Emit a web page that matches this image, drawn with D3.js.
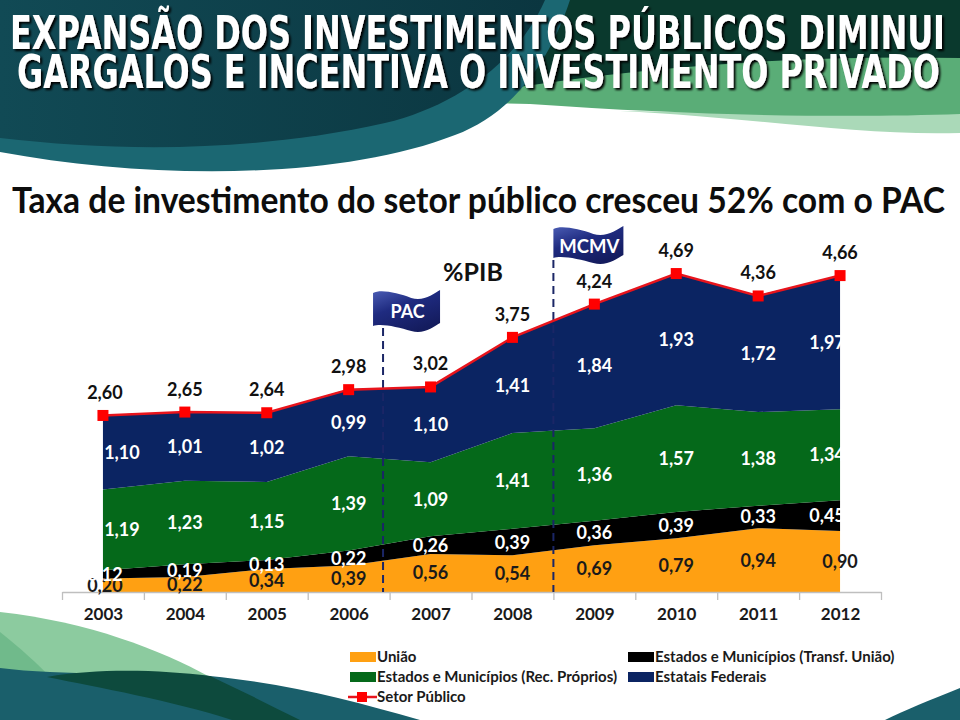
<!DOCTYPE html>
<html><head><meta charset="utf-8">
<script src="https://cdn.jsdelivr.net/npm/d3@7"></script>
<style>body{margin:0;background:#fff}svg{display:block}</style>
</head><body>
<svg id="c" width="960" height="720"></svg>
<script>
// ---------- DATA ----------
const years = [2003, 2004, 2005, 2006, 2007, 2008, 2009, 2010, 2011, 2012];
const uniao = [0.20, 0.22, 0.34, 0.39, 0.56, 0.54, 0.69, 0.79, 0.94, 0.90];
const transfUniao = [0.12, 0.19, 0.13, 0.22, 0.26, 0.39, 0.36, 0.39, 0.33, 0.45];
const recProprios = [1.19, 1.23, 1.15, 1.39, 1.09, 1.41, 1.36, 1.57, 1.38, 1.34];
const estatais = [1.10, 1.01, 1.02, 0.99, 1.10, 1.41, 1.84, 1.93, 1.72, 1.97];
const setorPublico = [2.60, 2.65, 2.64, 2.98, 3.02, 3.75, 4.24, 4.69, 4.36, 4.66];
const seriesKeys = ["uniao", "transf", "rec", "estatais"];
const seriesNames = ["União", "Estados e Municípios (Transf. União)", "Estados e Municípios (Rec. Próprios)", "Estatais Federais"];
const lineName = "Setor Público";
const milestones = [{label: "PAC", year: 2006.42}, {label: "MCMV", year: 2008.5}];
const title1 = "EXPANSÃO DOS INVESTIMENTOS PÚBLICOS DIMINUI";
const title2 = "GARGALOS E INCENTIVA O INVESTIMENTO PRIVADO";
const subtitle = "Taxa de investimento do setor público cresceu 52% com o PAC";
const unitLabel = "%PIB";

// ---------- STYLE ----------
const colors = {uniao: "#ffa012", transf: "#000000", rec: "#05691a", estatais: "#0b2462"};
const labelColors = {uniao: "#1a1a1a", transf: "#ffffff", rec: "#ffffff", estatais: "#ffffff"};
const lineColor = "#e8141c", markerColor = "#ff0000";
const F = "Lato, 'Open Sans', sans-serif";
const fmt = d3.formatLocale({decimal: ",", thousands: ".", grouping: [3], currency: ["R$", ""]}).format(".2f");

const svg = d3.select("#c");
const defs = svg.append("defs");
const shadow = defs.append("filter").attr("id", "shadow").attr("x", "-5%").attr("y", "-20%").attr("width", "110%").attr("height", "150%");
shadow.append("feDropShadow").attr("dx", 2).attr("dy", 2).attr("stdDeviation", 0.8).attr("flood-color", "#000").attr("flood-opacity", 1);

// ---------- BACKGROUND ----------
const gTeal = defs.append("linearGradient").attr("id", "gTeal").attr("x1", 0).attr("x2", 1);
gTeal.append("stop").attr("offset", 0).attr("stop-color", "#114a55");
gTeal.append("stop").attr("offset", 1).attr("stop-color", "#0b3640");
const bg = svg.append("g");
bg.append("path").attr("d", "M0,0 H960 V60 C780,56 600,72 440,102 L0,102 Z").attr("fill", "#0a392d");
bg.append("path").attr("d", "M620,111 C760,118 860,136 960,133 V110 C860,116 740,112 620,111 Z").attr("fill", "#aad9b8");
bg.append("path").attr("d", "M430,102 C600,70 780,54 960,58 V114 C850,118 700,116 530,104 Z").attr("fill", "#5aad77");
bg.append("path").attr("d", "M0,0 H570 C550,60 515,112 455,135 C340,180 150,180 0,152 Z").attr("fill", "#1b6772");
bg.append("path").attr("d", "M0,0 H545 C520,58 460,105 385,123 C255,152 120,152 0,138 Z").attr("fill", "url(#gTeal)");
// bottom waves
bg.append("path").attr("d", "M0,612 C90,622 160,650 210,677 L210,720 L0,720 Z").attr("fill", "#8ccb9f");
bg.append("path").attr("d", "M0,632 C20,648 38,664 50,677 L0,700 Z").attr("fill", "#70ba8b");
bg.append("path").attr("d", "M0,668 C60,676 150,672 210,676 C290,684 350,700 420,720 L0,720 Z").attr("fill", "#1a5f6b");
bg.append("path").attr("d", "M47,677 C100,668 160,670 210,676 C240,690 270,705 300,720 L232,720 C170,700 100,688 47,677 Z").attr("fill", "#0d4a3d");
bg.append("path").attr("d", "M960,688 C930,700 905,710 885,720 H960 Z").attr("fill", "#1a5f6b");

// ---------- TITLES ----------
function titleLine(txt, x, y, len) {
  svg.append("text").attr("x", x).attr("y", y).text(txt)
    .attr("font-family", "'Liberation Sans Narrow','DejaVu Sans Condensed',Lato,sans-serif")
    .attr("font-weight", "bold").attr("font-size", 46).attr("fill", "#fff")
    .attr("filter", "url(#shadow)")
    .attr("textLength", len).attr("lengthAdjust", "spacingAndGlyphs");
}
titleLine(title1, 10, 49, 935);
titleLine(title2, 17, 88, 923);
svg.append("text").attr("x", 12).attr("y", 213).text(subtitle)
  .attr("font-family", F).attr("font-weight", "bold").attr("font-size", 36).attr("fill", "#0d0d0d")
  .attr("textLength", 933).attr("lengthAdjust", "spacingAndGlyphs");

// ---------- SCALES ----------
const x = d3.scaleLinear().domain([2002.5, 2012.5]).range([62, 881]);
const y = d3.scaleLinear().domain([0, 5]).range([592, 252.5]);

const table = years.map((yr, i) => ({year: yr, uniao: uniao[i], transf: transfUniao[i], rec: recProprios[i], estatais: estatais[i]}));
const stacked = d3.stack().keys(seriesKeys)(table);

const area = d3.area().x(d => x(d.data.year)).y0(d => y(d[0])).y1(d => y(d[1]));
svg.append("g").selectAll("path").data(stacked).join("path")
  .attr("d", area).attr("fill", d => colors[d.key]);

// ---------- AXIS ----------
const boundaries = d3.range(years.length + 1).map(i => years[0] - 0.5 + i);
const ax = svg.append("g").attr("transform", `translate(0,${y(0)})`)
  .call(d3.axisBottom(x).tickValues(boundaries).tickSize(8).tickSizeOuter(0).tickFormat(""));
ax.selectAll("path,line").attr("stroke", "#bfbfbf").attr("stroke-width", 1.3);
const axl = svg.append("g").attr("transform", `translate(0,${y(0)})`)
  .call(d3.axisBottom(x).tickValues(years).tickSize(0).tickPadding(16).tickFormat(d3.format("d")));
axl.select(".domain").remove();
axl.selectAll("text").attr("font-family", F).attr("font-weight", "bold").attr("font-size", 17).attr("fill", "#1a1a1a");

// ---------- MILESTONES ----------
const gFlag = defs.append("linearGradient").attr("id", "gFlag").attr("x1", 0).attr("y1", 0).attr("x2", 0.6).attr("y2", 1);
gFlag.append("stop").attr("offset", 0).attr("stop-color", "#4b5db5");
gFlag.append("stop").attr("offset", 0.45).attr("stop-color", "#1f2b80");
gFlag.append("stop").attr("offset", 1).attr("stop-color", "#141c5e");
const flagPath = (w, h) => `M0,3 C8,-1 ${w*0.37},3 ${w*0.57},8 C${w*0.75},12 ${w*0.9},4 ${w},0 L${w},${h-7} C${w*0.9},${h-3} ${w*0.75},${h+5} ${w*0.57},${h+1} C${w*0.37},${h-3} 8,${h-7} 0,${h-4} Z`;
const flagLayout = {PAC: {dx: -10, top: 290, w: 67, h: 40, fs: 18}, MCMV: {dx: 0, top: 226, w: 70, h: 36, fs: 18.5}};
milestones.forEach(m => {
  const L = flagLayout[m.label], px = x(m.year);
  svg.append("line").attr("x1", px).attr("x2", px).attr("y1", L.top + L.h - 2).attr("y2", y(0))
    .attr("stroke", "#1b2666").attr("stroke-width", 2).attr("stroke-dasharray", "8,5");
  const g = svg.append("g").attr("transform", `translate(${px + L.dx},${L.top})`);
  g.append("path").attr("d", flagPath(L.w, L.h)).attr("fill", "url(#gFlag)");
  g.append("text").attr("x", L.w / 2 + 1).attr("y", L.h / 2 + 2).attr("dy", "0.36em").attr("text-anchor", "middle")
    .text(m.label).attr("font-family", F).attr("font-weight", "bold").attr("font-size", L.fs).attr("fill", "#fff");
});

// ---------- LINE ----------
const line = d3.line().x((d, i) => x(years[i])).y(d => y(d));
svg.append("path").datum(setorPublico).attr("d", line).attr("fill", "none").attr("stroke", lineColor).attr("stroke-width", 2.5);
svg.append("g").selectAll("rect").data(setorPublico).join("rect")
  .attr("x", (d, i) => x(years[i]) - 5.5).attr("y", d => y(d) - 5.5).attr("width", 11).attr("height", 11).attr("fill", markerColor);

// ---------- LABELS ----------
function shift(key, i) {
  if (i === 0) return (key === "rec" || key === "estatais") ? 19 : 2;
  if (i === years.length - 1) return key === "uniao" ? 0 : -13;
  return 0;
}
const lbl = svg.append("g").attr("font-family", F).attr("font-weight", "bold").attr("font-size", 18).attr("text-anchor", "middle");
stacked.forEach(s => {
  lbl.append("g").selectAll("text").data(s).join("text")
    .attr("x", (d, i) => x(d.data.year) + shift(s.key, i))
    .attr("y", d => y((d[0] + d[1]) / 2)).attr("dy", "0.36em")
    .attr("fill", labelColors[s.key]).text(d => fmt(d.data[s.key]));
});
lbl.append("g").selectAll("text").data(setorPublico).join("text")
  .attr("x", (d, i) => x(years[i]) + (i === 0 ? 2 : 0)).attr("y", d => y(d) - 23).attr("dy", "0.36em")
  .attr("fill", "#111").text(d => fmt(d));
svg.append("text").attr("x", 473).attr("y", 272).attr("dy", "0.36em").attr("text-anchor", "middle").text(unitLabel)
  .attr("font-family", F).attr("font-weight", "bold").attr("font-size", 25).attr("fill", "#111");

// ---------- LEGEND ----------
const legendItems = [
  {key: "uniao", name: seriesNames[0], col: 0, row: 0},
  {key: "transf", name: seriesNames[1], col: 1, row: 0},
  {key: "rec", name: seriesNames[2], col: 0, row: 1},
  {key: "estatais", name: seriesNames[3], col: 1, row: 1},
  {key: "line", name: lineName, col: 0, row: 2}
];
const lg = svg.append("g").attr("transform", "translate(350,657)");
legendItems.forEach(it => {
  const g = lg.append("g").attr("transform", `translate(${it.col * 278},${it.row * 20})`);
  if (it.key === "line") {
    g.append("line").attr("x1", -2).attr("x2", 27).attr("y1", 0).attr("y2", 0).attr("stroke", lineColor).attr("stroke-width", 2.5);
    g.append("rect").attr("x", 7).attr("y", -5).attr("width", 10).attr("height", 10).attr("fill", markerColor);
  } else {
    g.append("rect").attr("x", 0).attr("y", -5).attr("width", 26).attr("height", 10).attr("fill", colors[it.key]);
  }
  g.append("text").attr("x", 27).attr("y", 0).attr("dy", "0.36em").text(it.name)
    .attr("font-family", F).attr("font-weight", "bold").attr("font-size", 15).attr("fill", "#1a1a1a");
});
</script>
</body></html>
